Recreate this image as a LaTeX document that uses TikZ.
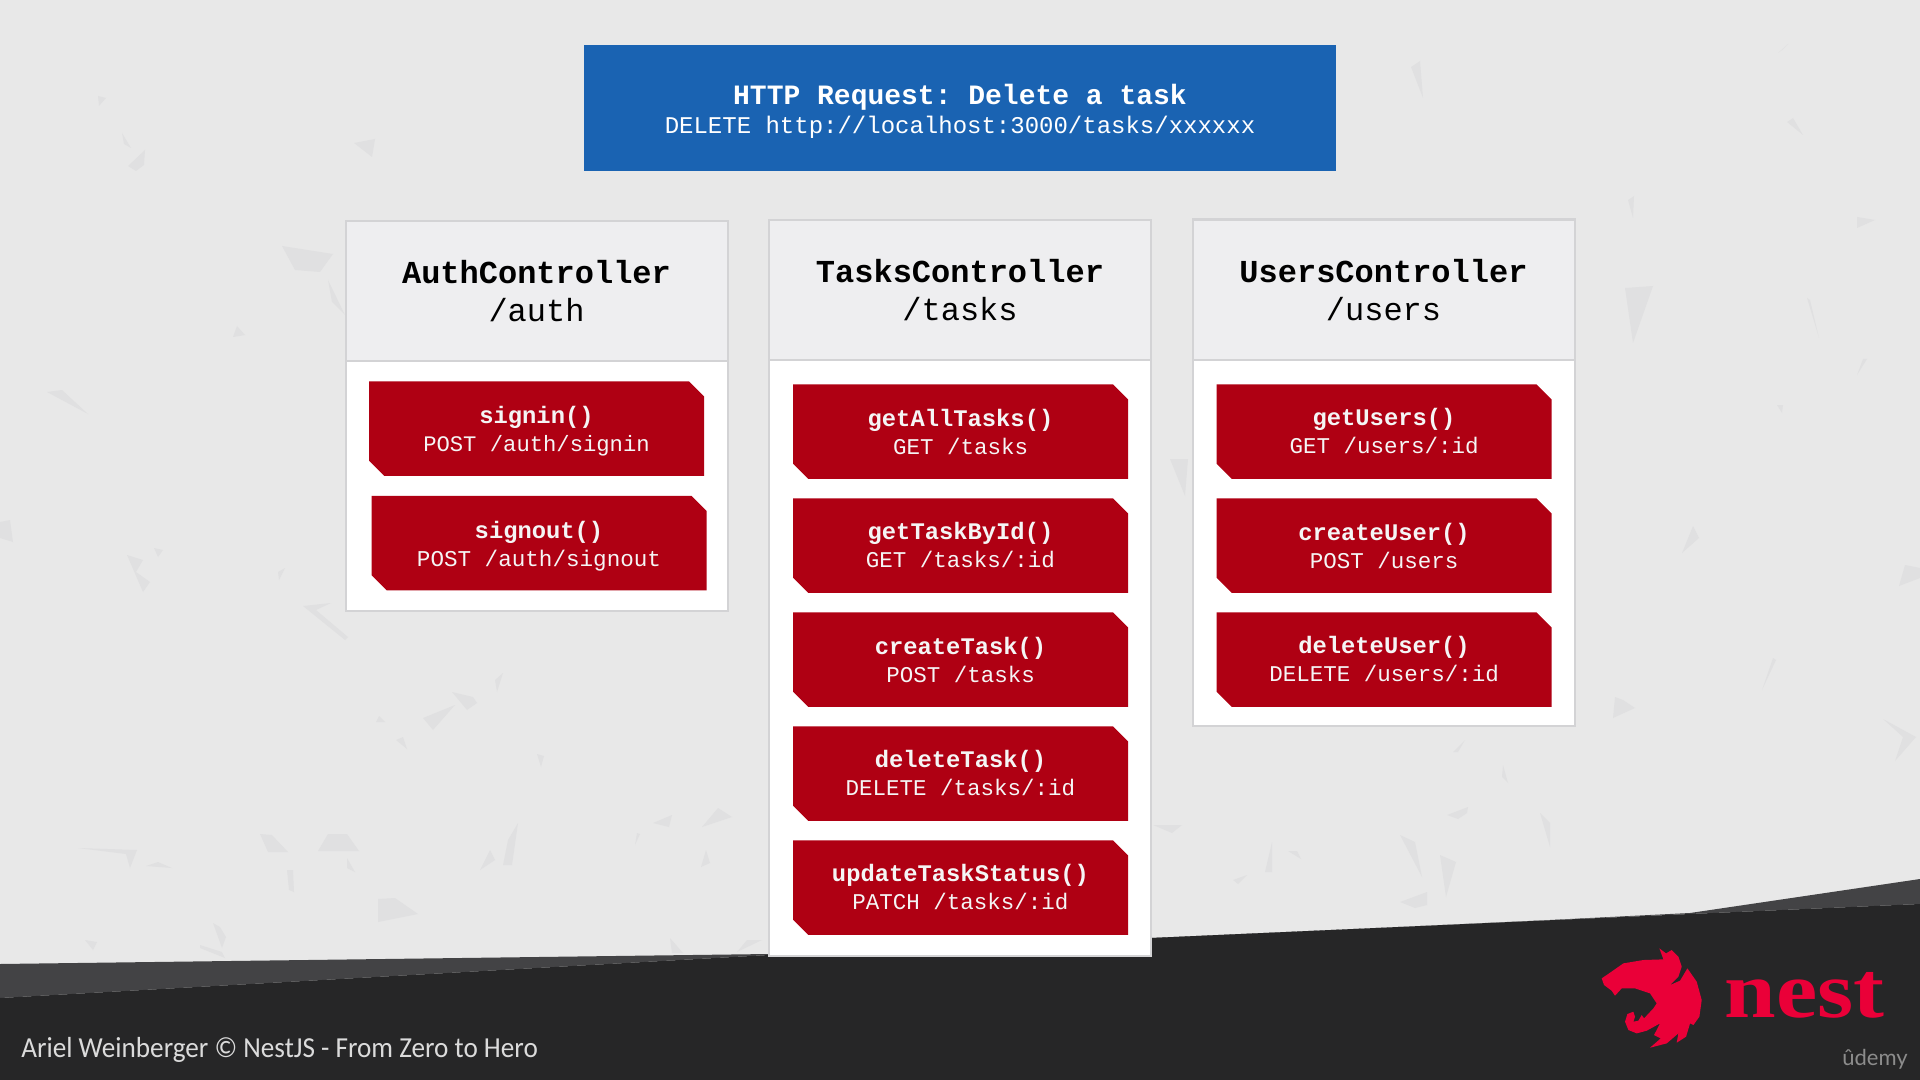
\documentclass[tikz,border=0pt]{standalone}
\usepackage{fontspec}
\setmainfont[FakeStretch=0.937]{Carlito}
\setmonofont{Liberation Mono}
\newfontfamily\nestfont[FakeStretch=1.16]{Liberation Serif}
\newfontfamily\udemyfont{Lato}
\usetikzlibrary{shapes.misc}

\definecolor{paper}{HTML}{E8E8E8}
\definecolor{shardgrey}{HTML}{E0E0E1}
\definecolor{bandlight}{HTML}{434345}
\definecolor{banddark}{HTML}{262627}
\definecolor{requestblue}{HTML}{1A63B2}
\definecolor{panelline}{HTML}{D3D3D5}
\definecolor{panelhead}{HTML}{EEEEF0}
\definecolor{cardred}{HTML}{AF0013}
\definecolor{nestred}{HTML}{EA0038}

\newcommand{\fnname}[1]{{\fontsize{11.9}{14}\selectfont\bfseries #1}}

\tikzset{
  shard/.style={fill=shardgrey},
  requestbox/.style={rectangle, fill=requestblue, text=white, inner sep=0pt, align=center,
    minimum width=376pt, minimum height=62.75pt, font=\ttfamily},
  panelbody/.style={rectangle, draw=panelline, line width=1pt, fill=white, inner sep=0pt,
    minimum width=191pt},
  panelhdr/.style={rectangle, draw=panelline, line width=1pt, fill=panelhead, text=black, inner sep=0pt,
    minimum width=191pt, minimum height=70pt, align=center,
    font=\ttfamily\fontsize{16}{19}\selectfont},
  card/.style={chamfered rectangle, chamfered rectangle corners={north east,south west},
    chamfered rectangle xsep=3.8pt, chamfered rectangle ysep=3.8pt,
    fill=cardred, text=white!96!black, inner sep=0pt, align=center,
    minimum width=167.5pt, minimum height=47.25pt,
    font=\ttfamily\fontsize{11.25}{14}\selectfont},
}

\begin{document}
\begin{tikzpicture}[x=0.5pt, y=-0.5pt]
  \useasboundingbox (0,0) rectangle (1920,1080);
  \fill[paper] (0,0) rectangle (1920,1080);

  % Background shards
  \fill[shard] (98,96) -- (106,98) -- (99,106) -- cycle;
  \fill[shard] (122,133) -- (131,148) -- (124,144) -- cycle;
  \fill[shard] (145,150) -- (144,165) -- (136,171) -- (128,166) -- cycle;
  \fill[shard] (354,143) -- (375,139) -- (372,157) -- cycle;
  \fill[shard] (282,246) -- (333,254) -- (320,272) -- (295,270) -- cycle;
  \fill[shard] (328,280) -- (345,315) -- (332,302) -- cycle;
  \fill[shard] (237,326) -- (245,335) -- (233,337) -- cycle;
  \fill[shard] (47,392) -- (62,390) -- (88,414) -- cycle;
  \fill[shard] (0,522) -- (10,520) -- (13,542) -- (0,538) -- cycle;
  \fill[shard] (127,555) -- (143,560) -- (136,572) -- (150,582) -- (143,592) -- cycle;
  \fill[shard] (154,548) -- (163,550) -- (158,557) -- cycle;
  \fill[shard] (285,568) -- (279,580) -- (278,572) -- cycle;
  \fill[shard] (303,606) -- (331,603) -- (316,610) -- (348,637) -- (345,640) -- cycle;
  \fill[shard] (78,848) -- (137,850) -- (130,868) -- (126,854) -- cycle;
  \fill[shard] (146,866) -- (158,862) -- (172,868) -- cycle;
  \fill[shard] (260,834) -- (272,835) -- (288,852) -- (268,852) -- cycle;
  \fill[shard] (328,834) -- (347,834) -- (359,851) -- (318,851) -- cycle;
  \fill[shard] (347,858) -- (355,872) -- (347,868) -- cycle;
  \fill[shard] (287,870) -- (293,870) -- (294,892) -- (289,890) -- cycle;
  \fill[shard] (378,899) -- (395,898) -- (418,914) -- (378,922) -- cycle;
  \fill[shard] (213,923) -- (220,927) -- (226,937) -- (222,948) -- cycle;
  \fill[shard] (200,945) -- (222,952) -- (225,958) -- (200,948) -- cycle;
  \fill[shard] (85,940) -- (97,942) -- (93,950) -- cycle;
  \fill[shard] (452,692) -- (473,697) -- (477,703) -- (467,710) -- cycle;
  \fill[shard] (423,718) -- (455,705) -- (433,730) -- cycle;
  \fill[shard] (396,740) -- (403,737) -- (407,749) -- cycle;
  \fill[shard] (379,716) -- (385,722) -- (376,722) -- cycle;
  \fill[shard] (495,680) -- (503,673) -- (497,692) -- cycle;
  \fill[shard] (537,754) -- (544,756) -- (541,767) -- cycle;
  \fill[shard] (518,823) -- (512,865) -- (503,865) -- (508,840) -- cycle;
  \fill[shard] (495,860) -- (480,870) -- (490,850) -- cycle;
  \fill[shard] (672,815) -- (669,827) -- (653,823) -- cycle;
  \fill[shard] (718,808) -- (732,817) -- (702,827) -- cycle;
  \fill[shard] (706,850) -- (710,863) -- (701,867) -- cycle;
  \fill[shard] (637,833) -- (640,834) -- (635,845) -- cycle;
  \fill[shard] (670,938) -- (683,953) -- (672,953) -- cycle;
  \fill[shard] (762,940) -- (737,952) -- (747,940) -- cycle;
  \fill[shard] (1170,459) -- (1188,459) -- (1185,496) -- cycle;
  \fill[shard] (1411,67) -- (1420,61) -- (1423,98) -- cycle;
  \fill[shard] (1625,288) -- (1653,286) -- (1633,343) -- cycle;
  \fill[shard] (1857,217) -- (1875,220) -- (1857,228) -- cycle;
  \fill[shard] (1807,298) -- (1810,300) -- (1819,338) -- cycle;
  \fill[shard] (1787,122) -- (1793,118) -- (1803,135) -- cycle;
  \fill[shard] (1628,200) -- (1634,196) -- (1633,218) -- cycle;
  \fill[shard] (1778,53) -- (1788,44) -- (1782,50) -- cycle;
  \fill[shard] (1857,375) -- (1863,359) -- (1867,359) -- cycle;
  \fill[shard] (1777,405) -- (1783,405) -- (1782,413) -- cycle;
  \fill[shard] (1693,526) -- (1699,538) -- (1682,553) -- cycle;
  \fill[shard] (1905,565) -- (1920,568) -- (1920,578) -- (1899,586) -- cycle;
  \fill[shard] (1615,697) -- (1623,700) -- (1635,708) -- (1613,718) -- cycle;
  \fill[shard] (1773,658) -- (1776,660) -- (1762,690) -- cycle;
  \fill[shard] (1883,719) -- (1916,737) -- (1895,761) -- (1903,737) -- cycle;
  \fill[shard] (1153,825) -- (1182,825) -- (1172,833) -- cycle;
  \fill[shard] (1272,842) -- (1272,872) -- (1265,872) -- cycle;
  \fill[shard] (1288,851) -- (1297,851) -- (1301,859) -- cycle;
  \fill[shard] (1233,880) -- (1247,875) -- (1238,884) -- cycle;
  \fill[shard] (1400,835) -- (1415,842) -- (1422,877) -- cycle;
  \fill[shard] (1440,855) -- (1456,862) -- (1446,897) -- cycle;
  \fill[shard] (1400,902) -- (1427,892) -- (1427,905) -- (1415,908) -- cycle;
  \fill[shard] (1447,815) -- (1468,807) -- (1467,813) -- (1458,819) -- cycle;
  \fill[shard] (1453,752) -- (1465,740) -- (1458,752) -- cycle;
  \fill[shard] (1503,765) -- (1508,783) -- (1502,777) -- cycle;
  \fill[shard] (1540,813) -- (1550,823) -- (1550,847) -- cycle;

  % Bottom band
  \fill[bandlight] (0,964) -- (769,954) -- (1160,938) -- (1550,920) -- (1690,913) -- (1920,879)
    -- (1920,904) -- (1690,914) -- (769,955) -- (0,998) -- cycle;
  \fill[banddark] (0,998) -- (769,955) -- (1690,914) -- (1920,904) -- (1920,1080) -- (0,1080) -- cycle;

  % Request banner
  \node[requestbox] (request) at (960,108) {{\fontsize{14}{16}\selectfont\bfseries\rule{0pt}{13.5pt}HTTP Request: Delete a task}\\[2.6pt]
    {\fontsize{12}{14}\selectfont DELETE http://localhost:3000/tasks/xxxxxx}};

  % Auth column
  \node[panelbody, minimum height=195pt] (authbody) at (536.5,416) {};
  \node[panelhdr] (authhead) at (536.5,291.5) {\textbf{AuthController}\\/auth};
  \node[card, font=\ttfamily\fontsize{11.1}{14}\selectfont] (signin) at (536.5,428.5) {\rule{0pt}{11.4pt}\fnname{signin()}\\POST /auth/signin};
  \node[card, font=\ttfamily\fontsize{11.3}{14}\selectfont] (signout) at (539,543) {\rule{0pt}{11.4pt}\fnname{signout()}\\POST /auth/signout};

  % Tasks column
  \node[panelbody, minimum height=368pt] (tasksbody) at (960,588) {};
  \node[panelhdr] (taskshead) at (960,290.5) {\textbf{TasksController}\\/tasks};
  \node[card] (getalltasks) at (960.5,431.5) {\fnname{getAllTasks()}\\GET /tasks};
  \node[card] (gettaskbyid) at (960.5,545.5) {\fnname{getTaskById()}\\GET /tasks/:id};
  \node[card] (createtask) at (960.5,659.5) {\fnname{createTask()}\\POST /tasks};
  \node[card] (deletetask) at (960.5,773.5) {\fnname{deleteTask()}\\DELETE /tasks/:id};
  \node[card] (updatestatus) at (960.5,887.5) {\fnname{updateTaskStatus()}\\PATCH /tasks/:id};

  % Users column
  \node[panelbody, minimum height=253.5pt] (usersbody) at (1383.5,472.5) {};
  \node[panelhdr] (usershead) at (1383.5,290.5) {\textbf{UsersController}\\/users};
  \node[card] (getusers) at (1384,431.5) {\fnname{getUsers()}\\GET /users/:id};
  \node[card] (createuser) at (1384,545.5) {\fnname{createUser()}\\POST /users};
  \node[card] (deleteuser) at (1384,659.5) {\fnname{deleteUser()}\\DELETE /users/:id};

  % Footer
  \node[anchor=west, inner sep=0pt, text=white!86!black, font=\fontsize{14.5}{16}\selectfont] (credit) at (21,1050)
    {Ariel Weinberger © NestJS - From Zero to Hero};
  \node[anchor=base west, inner sep=0pt, text=nestred, font=\nestfont\bfseries\fontsize{40}{40}\selectfont] (nest) at (1724,1017) {nest};
  \node[anchor=center, inner sep=0pt, text=white!55!black, font=\udemyfont\fontsize{11}{12}\selectfont] (udemy) at (1875,1059) {ûdemy};

  % Logo
  \begin{scope}[shift={(1500,860)}, x=0.1667pt, y=-0.1667pt]
    \fill[nestred] (305,355) -- (330,338) -- (370,310) -- (430,300) -- (490,298) -- (478,265)
      -- (498,280) -- (515,270) -- (535,290) -- (545,320) -- (535,350) -- (510,375)
      -- (540,362) -- (562,325) -- (590,365) -- (605,420) -- (598,470) -- (580,495)
      -- (570,490) -- (558,530) -- (530,548) -- (535,520) -- (500,550) -- (450,563)
      -- (482,535) -- (462,525) -- (480,490) -- (462,500) -- (440,512) -- (410,520)
      -- (385,510) -- (375,485) -- (382,462) -- (400,455) -- (405,470) -- (400,485)
      -- (415,482) -- (425,465) -- (432,475) -- (460,445) -- (470,430) -- (450,400)
      -- (405,385) -- (365,385) -- (345,407) -- (335,392) -- (312,375) -- cycle;
  \end{scope}
\end{tikzpicture}
\end{document}
